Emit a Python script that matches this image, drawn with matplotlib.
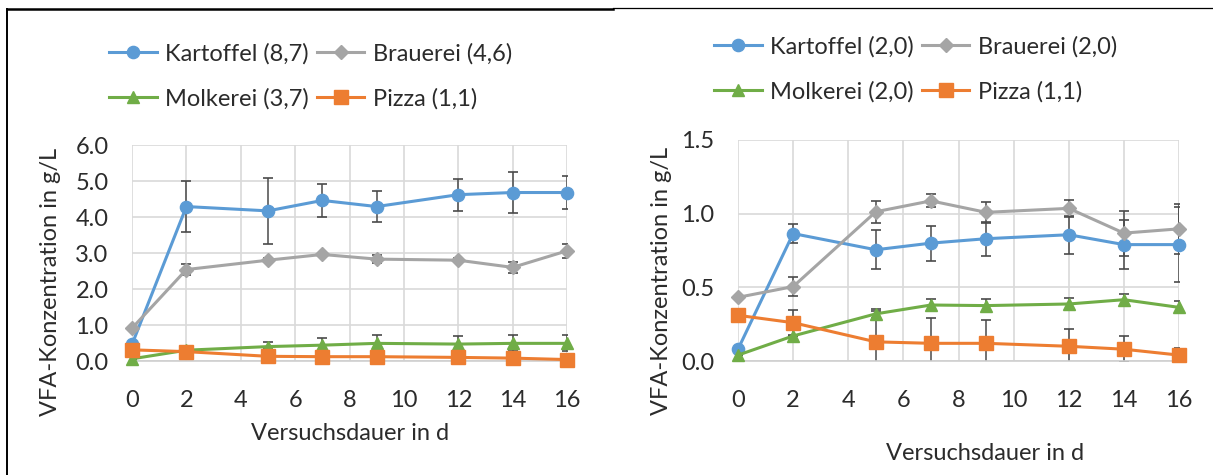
import matplotlib
matplotlib.use("Agg")
import matplotlib.pyplot as plt
from matplotlib.lines import Line2D
from matplotlib.ticker import FormatStrFormatter

plt.rcParams["font.family"] = ["Lato", "DejaVu Sans"]

# Sampling days
days = [0, 2, 5, 7, 9, 12, 14, 16]

# Higher organic loading (left chart)
kart_hi = [0.46, 4.29, 4.17, 4.46, 4.29, 4.62, 4.68, 4.68]
kart_hi_err = [0.0, 0.70, 0.92, 0.46, 0.42, 0.44, 0.56, 0.46]
brau_hi = [0.91, 2.54, 2.80, 2.96, 2.83, 2.80, 2.60, 3.06]
brau_hi_err = [0.0, 0.15, 0.05, 0.05, 0.12, 0.05, 0.15, 0.19]
molk_hi = [0.06, 0.30, 0.40, 0.44, 0.49, 0.47, 0.49, 0.49]
molk_hi_err = [0.0, 0.0, 0.12, 0.21, 0.22, 0.22, 0.22, 0.22]

# Lower organic loading (right chart)
kart_lo = [0.08, 0.865, 0.755, 0.80, 0.83, 0.857, 0.79, 0.79]
kart_lo_err = [0.0, 0.067, 0.131, 0.118, 0.114, 0.13, 0.164, 0.253]
brau_lo = [0.432, 0.505, 1.013, 1.087, 1.009, 1.036, 0.868, 0.897]
brau_lo_err = [0.0, 0.067, 0.076, 0.045, 0.07, 0.06, 0.153, 0.168]
molk_lo = [0.04, 0.17, 0.32, 0.38, 0.376, 0.387, 0.416, 0.364]
molk_lo_err = [0.0, 0.0, 0.03, 0.04, 0.045, 0.04, 0.04, 0.04]

# Pizza (1,1) appears in both charts
pizza = [0.31, 0.26, 0.13, 0.12, 0.12, 0.10, 0.08, 0.04]
pizza_err = [0.0, 0.085, 0.21, 0.17, 0.16, 0.12, 0.09, 0.05]

labels_hi = ["Kartoffel (8,7)", "Brauerei (4,6)", "Molkerei (3,7)", "Pizza (1,1)"]
labels_lo = ["Kartoffel (2,0)", "Brauerei (2,0)", "Molkerei (2,0)", "Pizza (1,1)"]

xticks = [0, 2, 4, 6, 8, 10, 12, 14, 16]
yticks_hi = [0.0, 1.0, 2.0, 3.0, 4.0, 5.0, 6.0]
yticks_lo = [0.0, 0.5, 1.0, 1.5]

colors = ["#5B9BD5", "#A5A5A5", "#70AD47", "#ED7D31"]
markers = ["o", "D", "^", "s"]
msizes = [8.8, 6.8, 8.8, 9.4]
TXT = "#2b2b2b"
FS = 17

W, H = 1213, 475
fig = plt.figure(figsize=(W / 100, H / 100), dpi=100)


def px_rect(x0, y0, x1, y1):
    return [x0 / W, 1 - y1 / H, (x1 - x0) / W, (y1 - y0) / H]


def panel(rect, series, errs, labels, yticks, leg_center, ylab_pos, xlab_pos):
    ax = fig.add_axes(rect)
    handles = []
    for i, (vals, err) in enumerate(zip(series, errs)):
        ax.errorbar(days, vals, yerr=err, fmt="none", ecolor="#4a4a4a",
                    elinewidth=1.1, capsize=3.6, capthick=1.2, zorder=2 + i * 0.1)
    for i, vals in enumerate(series):
        h, = ax.plot(days, vals, color=colors[i], lw=2.2, marker=markers[i],
                     ms=msizes[i], mfc=colors[i], mec=colors[i],
                     zorder=4 + i * 0.1, clip_on=False, label=labels[i])
        handles.append(h)
    ax.set_xlim(0, 16)
    ax.set_ylim(yticks[0], yticks[-1])
    ax.set_xticks(xticks)
    ax.set_yticks(yticks)
    ax.yaxis.set_major_formatter(FormatStrFormatter("%.1f"))
    ax.grid(True, color="#D9D9D9", lw=1.2, zorder=0)
    ax.set_axisbelow(True)
    for s in ["top", "right", "left"]:
        ax.spines[s].set_visible(False)
    ax.spines["bottom"].set_color("#CFCFCF")
    ax.spines["bottom"].set_linewidth(1.2)
    ax.tick_params(axis="both", length=0, labelsize=FS, labelcolor=TXT)
    ax.tick_params(axis="x", pad=21)
    ax.tick_params(axis="y", pad=17)
    # legend: two rows, row-major order
    order = [0, 2, 1, 3]
    fig.legend([handles[k] for k in order], [labels[k] for k in order],
               ncol=2, loc="center",
               bbox_to_anchor=(leg_center[0] / W, 1 - leg_center[1] / H),
               frameon=False, fontsize=FS, handlelength=2.0,
               handletextpad=0.38, columnspacing=0.34, labelspacing=0.98,
               borderpad=0, labelcolor=TXT)
    fig.text(ylab_pos[0] / W, 1 - ylab_pos[1] / H, "VFA-Konzentration in g/L",
             rotation=90, ha="center", va="center", fontsize=FS, color=TXT)
    fig.text(xlab_pos[0] / W, 1 - xlab_pos[1] / H, "Versuchsdauer in d",
             ha="center", va="center", fontsize=FS, color=TXT)
    return ax


panel(px_rect(132, 145, 567, 361),
      [kart_hi, brau_hi, molk_hi, pizza],
      [kart_hi_err, brau_hi_err, molk_hi_err, pizza_err],
      labels_hi, yticks_hi, (311, 76), (51, 282), (350, 433))

panel(px_rect(738, 140, 1179, 361),
      [kart_lo, brau_lo, molk_lo, pizza],
      [kart_lo_err, brau_lo_err, molk_lo_err, pizza_err],
      labels_lo, yticks_lo, (916, 69), (661, 281), (985, 453))

# frame lines around the figure panels
fig.add_artist(Line2D([7 / W, 613 / W], [1 - 9 / H, 1 - 9 / H],
                      transform=fig.transFigure, color="black", lw=1.8))
fig.add_artist(Line2D([613 / W, 1.0], [1 - 8 / H, 1 - 8 / H],
                      transform=fig.transFigure, color="black", lw=0.9))
fig.add_artist(Line2D([7 / W, 7 / W], [0, 1 - 9 / H],
                      transform=fig.transFigure, color="black", lw=1.4))

fig.savefig("out.png", dpi=100)
